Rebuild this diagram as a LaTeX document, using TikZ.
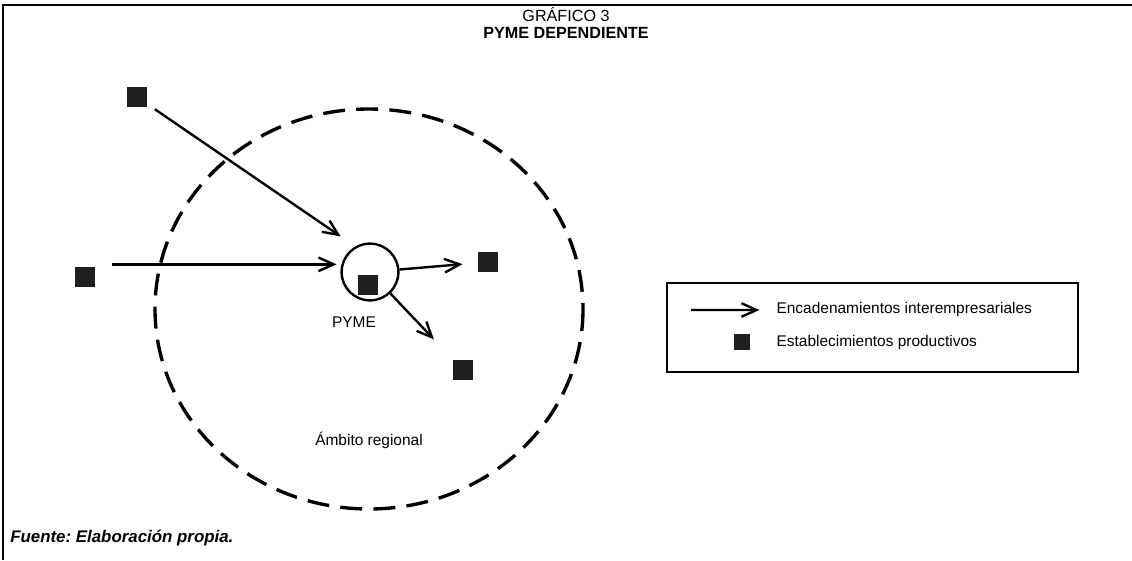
\documentclass[tikz,border=0pt]{standalone}
\usepackage{fontspec}
\setmainfont{Liberation Sans}
\frenchspacing
\usetikzlibrary{positioning, calc, arrows.meta}

\begin{document}
\begin{tikzpicture}[x=0.025cm, y=-0.025cm, node distance = 3mm and 6.5mm,
estab/.style= {rectangle, fill=black!88, minimum size=5mm, inner sep=0pt},
firma/.style= {circle, draw=black, line width=1.7pt, minimum size=14.2mm, inner sep=0pt},
flow/.style= {-{Straight Barb[length=3.8mm, width=3.4mm, line width=1.7pt]}, line width=1.7pt},
lbl/.style= {font=\fontsize{11}{13}\selectfont, inner sep=0pt} ]
\useasboundingbox (0,0) rectangle (1132,560);
\draw[line width=1.2pt] (3,560) -- (3,5) -- (1132,5);
% titulo
\node (titulo) [lbl, font=\fontsize{11.5}{13}\selectfont] at (566,15) {GRÁFICO 3};
\node (subtitulo) [lbl, font=\fontsize{11.5}{13}\selectfont\bfseries] at (566,33) {PYME DEPENDIENTE};
% ambito regional
\draw[line width=2.4pt, dash pattern=on 5.5mm off 2.8mm] (369,309) ellipse [x radius=214, y radius=200];
\node (ambito) [lbl] at (369,440) {Ámbito regional};
% establecimientos
\node (pyme) [firma] at (370,272) {};
\node (pymesq) [estab] at (368,285) {};
\node (pymelbl) [lbl] at (354,322) {PYME};
\node (e1) [estab] at (137,97) {};
\node (e2) [estab] at (85,277) {};
\node (e3) [estab] at (488,262) {};
\node (e4) [estab] at (463,370) {};
% encadenamientos
\draw[flow, shorten <=2.3mm, shorten >=4.4mm] (e1) -- (pyme.120);
\draw[flow, shorten <=4.2mm, shorten >=1.2mm] (e2.north east |- pyme.165) -- (pyme.165);
\draw[flow, shorten >=3.8mm] (pyme) -- (e3);
\draw[flow, shorten >=7mm] (pyme) -- (e4);
% leyenda
\draw[line width=0.8pt] (667,283) rectangle (1078,372);
\node (legsq) [estab, minimum size=4mm] at (742,342) {};
\node (legest) [lbl, right = of legsq] {Establecimientos productivos};
\node (legenc) [lbl, above = 8mm of legest.west, anchor=west] {Encadenamientos interempresariales};
\coordinate (legcola) at (691,310);
\draw[flow, shorten >=4.2mm] (legcola) -- (legenc.west);
% fuente
\node (fuente) [lbl, anchor=west, font=\fontsize{12}{14}\selectfont\bfseries\itshape] at (10,538) {Fuente: Elaboración propia.};
\end{tikzpicture}
\end{document}
